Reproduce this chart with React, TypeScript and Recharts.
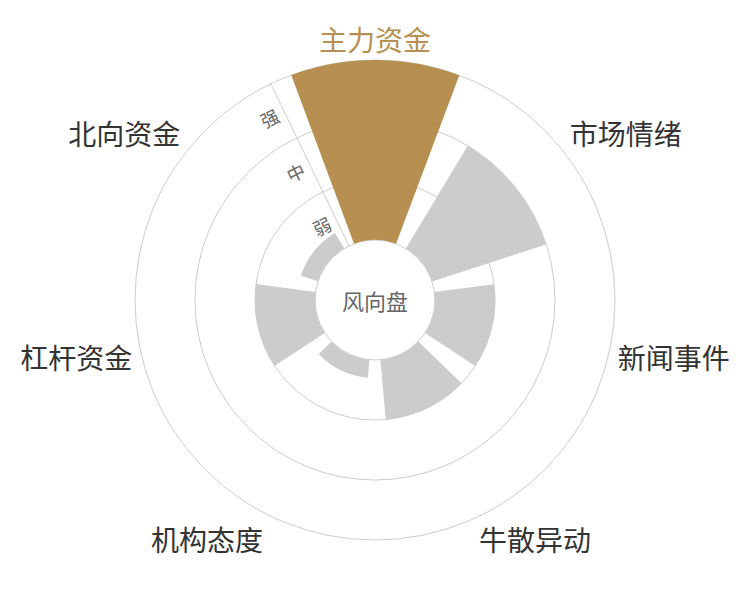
import {
  RadialBarChart,
  RadialBar,
  PolarAngleAxis,
  PolarRadiusAxis,
  PolarGrid,
  Cell,
} from 'recharts';

const categories = ['主力资金', '市场情绪', '新闻事件', '牛散异动', '机构态度', '杠杆资金', '北向资金'];
const strength = [3, 2, 1, 1, 0.3, 1, 0.3];
const levels = ['弱', '中', '强'];
const gridTicks = [0, 1, 2, 3];
const centerTitle = '风向盘';
const highlight = '主力资金';

const data = categories.map((name, i) => ({ name, value: strength[i] }));

const GOLD = '#b68f51';
const GREY = '#cccccc';
const LINE = '#cccccc';
const FONT = '"Noto Sans CJK SC", "Noto Sans", sans-serif';

const CX = 375;
const CY = 300;
const INNER = 60;
const OUTER = 240;
const STEP = 360 / categories.length;
// recharts puts the angle ticks on the band edge and draws each bar in the
// band after it, so start half a band early to centre 主力资金 at 12 o'clock
const START = 90 - STEP / 2;
// radius axis sits on the border between 北向资金 and 主力资金
const AXIS_ANGLE = 90 + STEP / 2;

function CategoryTick(props: any) {
  const { x, y, payload } = props;
  const r = Math.hypot(x - CX, y - CY);
  // move the label from the band edge to the middle of its bar
  const rad = ((payload.coordinate + STEP / 2) * Math.PI) / 180;
  const dx = Math.cos(rad);
  const dy = -Math.sin(rad);
  const anchor = Math.abs(dx) < 0.3 ? 'middle' : dx > 0 ? 'start' : 'end';
  const below = dy > 0.3;
  const px = CX + r * dx - (below ? 4 : 0);
  const py = CY + r * dy;
  const shift = Math.abs(dy) < 0.3 ? 2 : dy < 0 ? -12 : 15;
  return (
    <text
      x={px}
      y={py + shift}
      textAnchor={anchor}
      dominantBaseline="central"
      fontSize={28}
      fontFamily={FONT}
      fill={payload.value === highlight ? GOLD : '#333333'}
    >
      {payload.value}
    </text>
  );
}

// level names sit halfway between a grid ring and the one inside it
function LevelTick(props: any) {
  const { payload } = props;
  const v = Number(payload.value);
  if (!(v >= 1)) return <g />;
  const r = payload.coordinate - (payload.coordinate - INNER) / (2 * v);
  const a = (AXIS_ANGLE * Math.PI) / 180;
  const ax = CX + r * Math.cos(a);
  const ay = CY - r * Math.sin(a);
  const lx = ax - Math.sin(a) * 16;
  const ly = ay - Math.cos(a) * 16;
  return (
    <text
      x={lx}
      y={ly}
      transform={`rotate(${90 - AXIS_ANGLE}, ${lx}, ${ly})`}
      textAnchor="middle"
      dominantBaseline="central"
      fontSize={18}
      fontFamily={FONT}
      fill="#666666"
    >
      {levels[v - 1]}
    </text>
  );
}

export default function App() {
  return (
    <div style={{ position: 'absolute', left: 0, top: 0, width: 750, height: 600, background: '#fff' }}>
      <RadialBarChart
        width={750}
        height={600}
        cx={CX}
        cy={CY}
        innerRadius={INNER}
        outerRadius={OUTER}
        startAngle={START}
        endAngle={START - 360}
        layout="centric"
        data={data}
        barCategoryGap="10%"
        margin={{ top: 0, right: 0, bottom: 0, left: 0 }}
      >
        <PolarGrid gridType="circle" radialLines={false} stroke={LINE} />
        <PolarAngleAxis
          dataKey="name"
          type="category"
          axisLine={false}
          tickLine={false}
          tickSize={9}
          tick={CategoryTick}
        />
        <PolarRadiusAxis
          type="number"
          domain={[0, 3]}
          ticks={gridTicks}
          angle={AXIS_ANGLE}
          tick={LevelTick}
          tickLine={false}
          axisLine={{ stroke: LINE }}
        />
        <RadialBar dataKey="value" isAnimationActive={false}>
          {data.map((d) => (
            <Cell key={d.name} fill={d.name === highlight ? GOLD : GREY} />
          ))}
        </RadialBar>
      </RadialBarChart>
      <div
        style={{
          position: 'absolute',
          left: CX,
          top: CY,
          transform: 'translate(-50%, -50%)',
          fontFamily: FONT,
          fontSize: 22,
          color: '#666666',
          whiteSpace: 'nowrap',
        }}
      >
        {centerTitle}
      </div>
    </div>
  );
}
